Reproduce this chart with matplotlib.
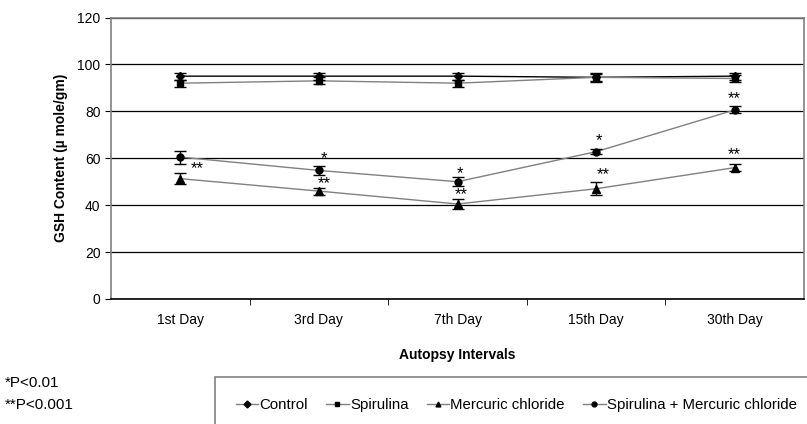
import matplotlib
matplotlib.use("Agg")
from matplotlib import pyplot as plt
from matplotlib.patches import Rectangle
import numpy as np

plt.rcParams['font.family'] = ['Liberation Sans', 'DejaVu Sans']

days = ['1st Day', '3rd Day', '7th Day', '15th Day', '30th Day']

control = [95, 95, 95, 94.5, 95]
control_err = [1.5, 1.5, 1.5, 1.5, 1.5]
spirulina = [92, 93, 92, 94.5, 94]
spirulina_err = [1.5, 1.5, 1.5, 2, 1.5]
mercuric = [51.3, 46, 40.5, 47, 56]
mercuric_err = [2.3, 1.5, 2, 2.7, 1.5]
spi_merc = [60.5, 54.8, 50, 62.8, 80.6]
spi_merc_err = [2.8, 2, 2, 1.2, 1.5]

# significance marks: (category index, value, text)
marks = [(0.12, 55.5, '**'),
         (1.04, 60, '*'), (1.04, 49, '**'),
         (2.02, 53.5, '*'), (2.03, 44.5, '**'),
         (3.02, 67.5, '*'), (3.05, 53, '**'),
         (4.0, 85.5, '**'), (4.0, 61.5, '**')]

x = np.arange(len(days))
fig = plt.figure(figsize=(8.07, 4.24), dpi=100)
ax = fig.add_axes([111/807, 1 - 299/424, 693/807, 281.5/424])

gray = '#808080'
series = [
    (control, control_err, 'D', 'black', 'Control', 4.5),
    (spirulina, spirulina_err, 's', gray, 'Spirulina', 5),
    (mercuric, mercuric_err, '^', gray, 'Mercuric chloride', 5.5),
    (spi_merc, spi_merc_err, 'o', gray, 'Spirulina + Mercuric chloride', 5),
]
handles = []
for vals, err, mk, lc, name, ms in series:
    ax.errorbar(x, vals, yerr=err, fmt='none', ecolor='black', elinewidth=1,
                capsize=4, capthick=1, zorder=3)
    ax.plot(x, vals, color=lc, lw=1, zorder=2)
    ax.plot(x, vals, ls='none', marker=mk, ms=ms, color='black', zorder=4)
    h, = plt.plot([], [], color=gray, lw=1, marker=mk, ms=3.5,
                  markerfacecolor='black', markeredgecolor='black')
    h.set_label(name)
    handles.append(h)

for xi, yi, t in marks:
    ax.text(xi, yi, t, ha='center', va='center', fontsize=12)

ax.set_xlim(-0.5, 4.5)
ax.set_ylim(0, 120)
ax.set_yticks(range(0, 121, 20))
ax.yaxis.grid(True, color='black', lw=0.9)
ax.set_axisbelow(True)
ax.set_xticks(x)
ax.set_xticklabels(days, fontsize=10)
ax.tick_params(axis='x', length=0, pad=10)
ax.set_xticks(np.arange(0.5, 4.5, 1), minor=True)
ax.tick_params(axis='x', which='minor', length=4, direction='out', color='black')
ax.tick_params(axis='y', labelsize=10, length=4, color='black')
for s in ax.spines.values():
    s.set_color(gray)
    s.set_linewidth(1.2)
ax.spines['bottom'].set_color('black')

ax.set_ylabel('GSH Content (µ mole/gm)', fontsize=10, fontweight='bold', labelpad=7)
ax.set_xlabel('Autopsy Intervals', fontsize=10, fontweight='bold', labelpad=15)

fig.text(5/807, 1 - 383/424, '*P<0.01', fontsize=11, va='center')
fig.text(5/807, 1 - 405/424, '**P<0.001', fontsize=11, va='center')

box = Rectangle((215/807, -0.05), 0.8, 0.05 + (424 - 377)/424, transform=fig.transFigure,
                fill=False, edgecolor=gray, lw=1.2, clip_on=False)
fig.add_artist(box)
fig.legend(handles=handles, loc='center left', bbox_to_anchor=(228/807, 1 - 405/424),
           ncol=4, frameon=False, fontsize=10.8, handlelength=1.5, handletextpad=0.1,
           columnspacing=1.2, borderpad=0)

fig.savefig('out.png', dpi=100)
